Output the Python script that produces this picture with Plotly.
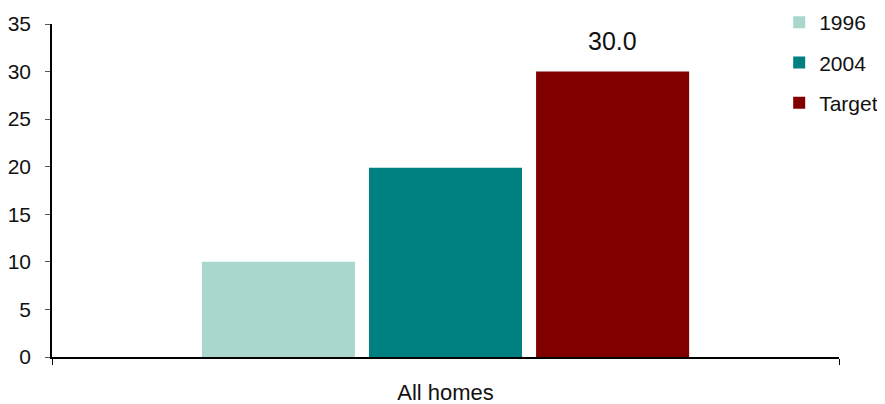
import plotly.graph_objects as go

categories = ["All homes"]
series_names = ["1996", "2004", "Target"]
series_values = [[10.0], [19.9], [30.0]]
series_colors = ["#A9D7CD", "#008080", "#800000"]
label_series = "Target"

BARGAP = 0.363
BARGROUPGAP = 0.084
FONT = "Liberation Sans"

fig = go.Figure()
for i, (name, vals, col) in enumerate(zip(series_names, series_values, series_colors)):
    fig.add_trace(go.Bar(
        x=categories, y=vals, name=name, marker_color=col,
        marker_line_width=0, legendgroup=name,
    ))

# label above the Target bar
n = len(series_names)
idx = series_names.index(label_series)
slot = (1 - BARGAP) / n
offset = -(1 - BARGAP) / 2 + slot * (idx + 0.5)
val = series_values[idx][0]
fig.add_annotation(
    x=offset, y=val, xref="x", yref="y", text=f"{val:.1f}",
    showarrow=False, yanchor="bottom", yshift=15,
    font=dict(family=FONT, size=25, color="#111"),
)

# the page body has an 8px margin, so the figure is sized/margined to compensate
fig.update_layout(
    width=877, height=396,
    margin=dict(l=44, r=46, t=16, b=47, autoexpand=False),
    paper_bgcolor="white", plot_bgcolor="white",
    barmode="group", bargap=BARGAP, bargroupgap=BARGROUPGAP,
    font=dict(family=FONT, size=21, color="#111"),
    legend=dict(
        x=0.924, y=1.066, xanchor="left", yanchor="top",
        bgcolor="rgba(0,0,0,0)", tracegroupgap=10,
        font=dict(family=FONT, size=21, color="#111"),
        itemwidth=30,
    ),
    showlegend=True,
)
fig.update_xaxes(
    type="category", showline=True, linecolor="black", linewidth=1.5,
    ticks="outside", tickson="boundaries", ticklen=6, tickcolor="black",
    tickfont=dict(family=FONT, size=22, color="#111"),
    ticklabelstandoff=15, showgrid=False, zeroline=False, automargin=False,
)
fig.update_yaxes(
    range=[0, 35], dtick=5, showline=True, linecolor="black", linewidth=1.5,
    ticks="outside", ticklen=5, tickcolor="#555",
    tickfont=dict(family=FONT, size=21, color="#111"),
    ticklabelstandoff=10, showgrid=False, zeroline=False, automargin=False,
)

fig.write_html("out.html")
